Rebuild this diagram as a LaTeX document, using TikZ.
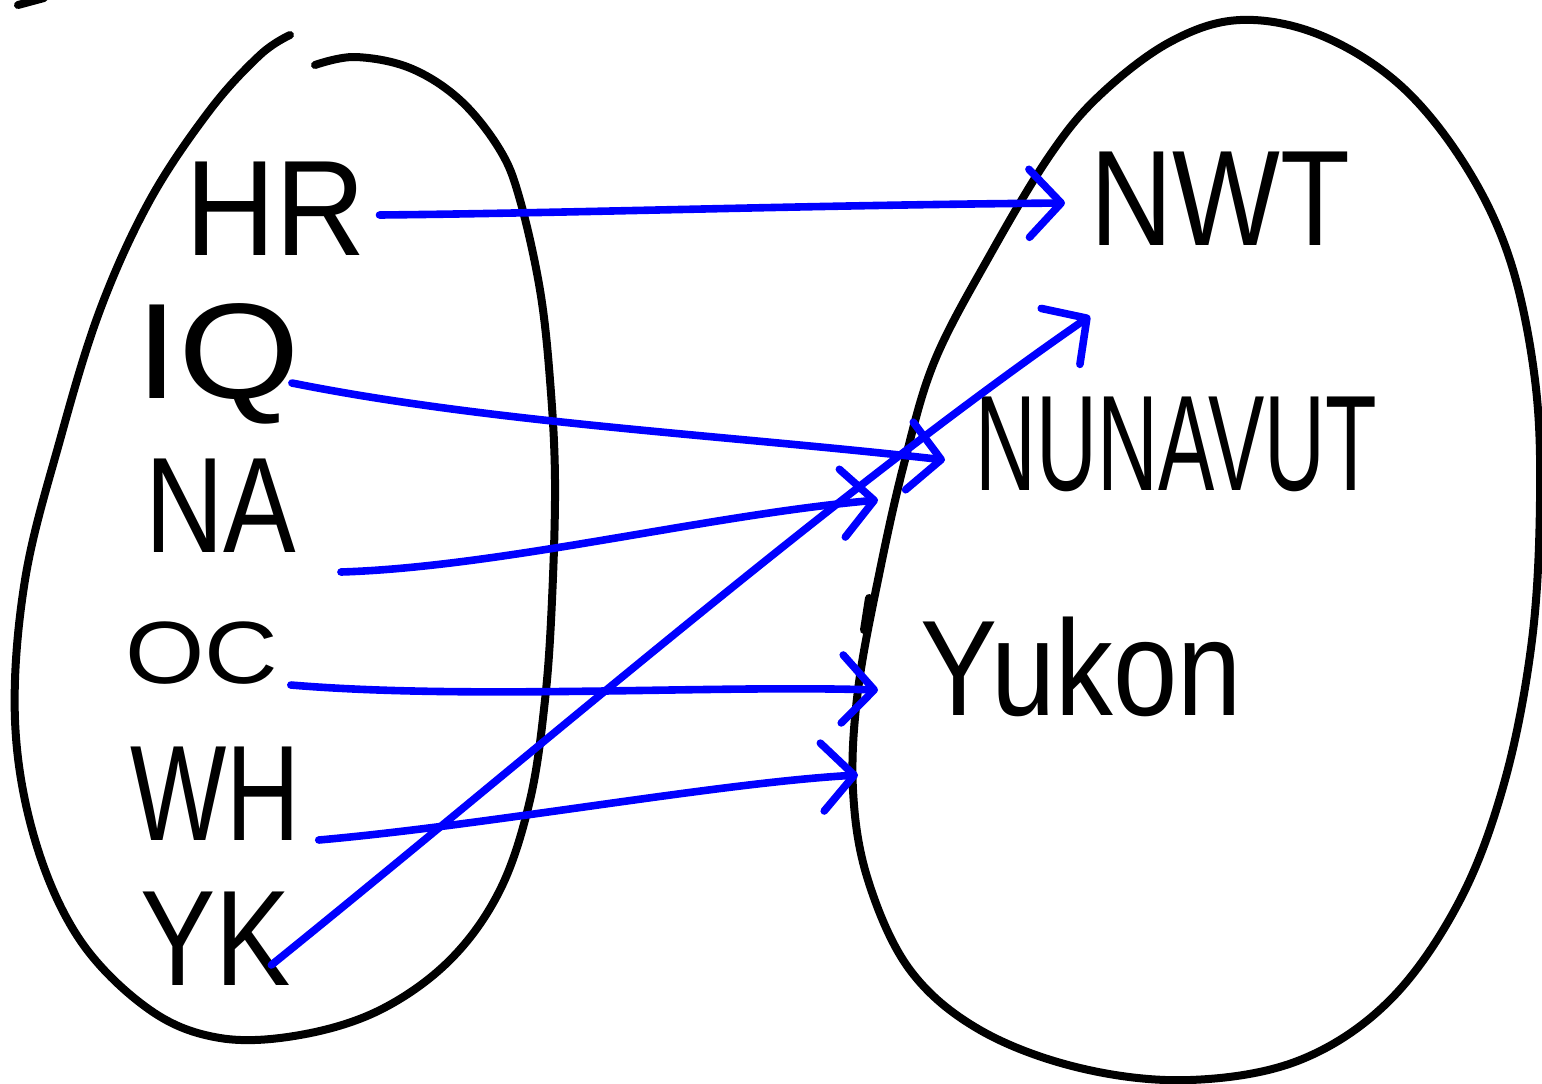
\documentclass[tikz,border=0pt]{standalone}
\usepackage{fontspec}
\setmainfont{Liberation Sans}
\usetikzlibrary{arrows.meta,calc}
\definecolor{inkblue}{RGB}{0,0,255}
\newcommand{\squeeze}[2]{\scalebox{#1}[1]{#2}}
\begin{document}
\begin{tikzpicture}[x=0.5pt,y=-0.5pt,
  blob/.style={line width=4pt, line cap=round, line join=round, black},
  map/.style={line width=3.8pt, line cap=round, line join=round, inkblue,
    -{Straight Barb[length=16pt,width=34pt,round]}},
  lbl/.style={inner sep=0pt, anchor=base west, font=\fontsize{68}{68}\selectfont}]
\useasboundingbox (0,0) rectangle (1542,1083);

% stray pen mark in the corner
\draw[blob] (18,5) -- (44,-2);

% domain: the set of communities
\draw[blob] plot[smooth, tension=0.6] coordinates {(315,65) (355,57) (410,68) (460,100) (500,150) (520,200) (540,290) (550,380) (555,480) (552,600) (545,700) (530,800) (500,890) (450,960) (380,1010) (300,1035) (220,1038) (150,1010) (80,940) (35,840) (15,720) (25,580) (60,440) (100,310) (150,200) (210,110) (260,55) (290,35)};

% codomain: the territories
\draw[blob] plot[smooth cycle, tension=0.6] coordinates {(1100,95) (1170,42) (1240,20) (1320,35) (1400,85) (1465,165) (1510,260) (1535,380) (1540,500) (1532,640) (1505,780) (1460,900) (1390,1000) (1300,1060) (1190,1080) (1080,1068) (980,1030) (910,970) (868,880) (853,790) (858,690) (880,570) (905,460) (935,360) (990,255) (1050,155)};
\draw[blob] (864,630) -- (869,598);

% community codes
\node[lbl] (hr) at (185,255) {\squeeze{0.92}{HR}};
\node[lbl] (iq) at (135,398) {\squeeze{1.15}{IQ}};
\node[lbl] (na) at (145,552) {\squeeze{0.8}{NA}};
\node[lbl] (oc) at (125,683) {\scalebox{0.75}[0.65]{OC}};
\node[lbl] (wh) at (130,840) {\squeeze{0.75}{WH}};
\node[lbl] (yk) at (140,985) {\squeeze{0.83}{YK}};

% territories
\node[lbl] (nwt) at (1090,245) {\squeeze{0.84}{NWT}};
\node[lbl] (nun) at (975,490) {\squeeze{0.62}{NUNAVUT}};
\node[lbl] (yuk) at (920,715) {\squeeze{0.85}{Yukon}};

% the mapping
\draw[map] ($(hr.base east)+(13,-40)$) .. controls +(200,-2) and +(-250,2) .. ($(nwt.base west)+(-25,-42)$);
\draw[map] ($(iq.base east)+(-9,-15)$) .. controls +(200,40) and +(-220,-25) .. ($(nun.base west)+(-30,-30)$);
\draw[map] ($(na.base east)+(44,20)$) .. controls +(160,-5) and +(-170,15) .. ($(nun.base west)+(-97,10)$);
\draw[map] ($(oc.base east)+(12,2)$) .. controls +(180,15) and +(-170,-5) .. ($(yuk.base west)+(-42,-25)$);
\draw[map] ($(wh.base east)+(18,0)$) .. controls +(170,-15) and +(-140,8) .. ($(yuk.base west)+(-62,60)$);
\draw[map] ($(yk.base east)+(-20,-20)$) .. controls +(260,-210) and +(-260,180) .. ($(nwt.base west)+(0,71)$);
\end{tikzpicture}
\end{document}
